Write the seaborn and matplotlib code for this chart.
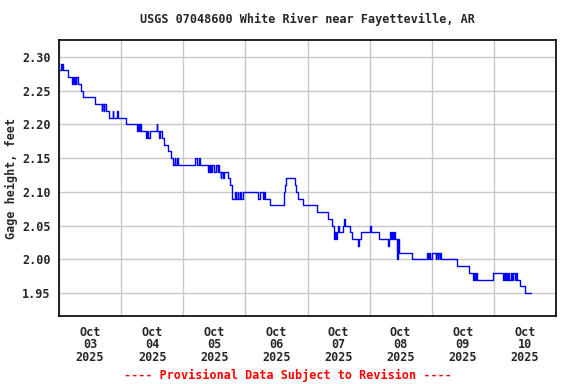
import numpy as np
import pandas as pd
import matplotlib
matplotlib.use('Agg')
import matplotlib.pyplot as plt
import matplotlib.dates as mdates
import seaborn as sns

# hours after 2025-10-03 00:00 where the gage reading changes, and the new reading (ft)
hours = [0.0, 0.75, 1.0, 1.25, 1.5, 3.5, 5.0, 5.25, 5.75, 6.0, 6.5, 6.75, 7.25, 8.5, 9.25,
         13.75, 16.5, 16.75, 17.25, 17.5, 18.0, 19.5, 20.75, 21.0, 22.5, 22.75, 26.0,
         30.25, 30.5, 31.0, 31.25, 31.75, 33.5, 34.0, 34.5, 35.0, 37.75, 38.0, 38.75, 39.0,
         39.75, 40.5, 42.0, 43.25, 44.0, 44.75, 45.0, 45.75, 46.0, 52.5, 53.25, 54.0, 54.5,
         57.75, 58.0, 58.25, 58.5, 58.75, 59.25, 60.0, 60.5, 61.25, 61.5, 62.0, 62.5, 62.75,
         63.5, 63.75, 65.25, 66.0, 66.75, 67.0, 68.0, 68.25, 69.0, 69.25, 70.0, 70.25, 71.0,
         76.75, 77.5, 78.75, 79.25, 79.75, 81.5, 87.0, 87.25, 87.75, 91.25, 91.75, 92.25,
         94.25, 99.5, 104.0, 105.5, 106.25, 106.75, 107.0, 107.5, 107.75, 108.0, 109.75,
         110.25, 110.5, 112.25, 113.25, 115.5, 115.75, 116.75, 120.25, 120.5, 123.5, 127.25,
         127.5, 128.0, 128.25, 128.75, 129.0, 129.5, 129.75, 130.5, 130.75, 131.0, 131.5,
         136.25, 142.25, 142.5, 143.0, 143.5, 144.0, 145.5, 145.75, 146.25, 146.5, 147.0,
         147.25, 147.75, 153.75, 158.25, 160.0, 160.25, 160.75, 161.0, 161.5, 167.75, 171.5,
         171.75, 172.25, 172.75, 173.0, 173.5, 174.0, 174.5, 175.0, 175.25, 176.0, 176.5,
         177.0, 178.0, 180.0, 182.5]
gage = [2.28, 2.29, 2.28, 2.29, 2.28, 2.27, 2.26, 2.27, 2.26, 2.27, 2.26, 2.27, 2.26, 2.25, 2.24,
        2.23, 2.22, 2.23, 2.22, 2.23, 2.22, 2.21, 2.22, 2.21, 2.22, 2.21, 2.20,
        2.19, 2.20, 2.19, 2.20, 2.19, 2.18, 2.19, 2.18, 2.19, 2.20, 2.19, 2.18, 2.19,
        2.18, 2.17, 2.16, 2.15, 2.14, 2.15, 2.14, 2.15, 2.14, 2.15, 2.14, 2.15, 2.14,
        2.13, 2.14, 2.13, 2.14, 2.13, 2.14, 2.13, 2.14, 2.13, 2.14, 2.13, 2.12, 2.13,
        2.12, 2.13, 2.12, 2.11, 2.10, 2.09, 2.10, 2.09, 2.10, 2.09, 2.10, 2.09, 2.10,
        2.09, 2.10, 2.09, 2.10, 2.09, 2.08, 2.10, 2.11, 2.12, 2.11, 2.10, 2.09,
        2.08, 2.07, 2.06, 2.05, 2.03, 2.04, 2.03, 2.04, 2.05, 2.04, 2.05,
        2.06, 2.05, 2.04, 2.03, 2.02, 2.03, 2.04, 2.05, 2.04, 2.03, 2.02,
        2.03, 2.04, 2.03, 2.04, 2.03, 2.04, 2.03, 2.02, 2.00, 2.03, 2.01,
        2.00, 2.01, 2.00, 2.01, 2.00, 2.01, 2.00, 2.01, 2.00, 2.01, 2.00,
        2.01, 2.00, 1.99, 1.98, 1.97, 1.98, 1.97, 1.98, 1.97, 1.98, 1.97,
        1.98, 1.97, 1.98, 1.97, 1.98, 1.97, 1.98, 1.97, 1.98, 1.97, 1.98,
        1.97, 1.96, 1.95, 1.95]
days = ['2025-10-03', '2025-10-04', '2025-10-05', '2025-10-06',
        '2025-10-07', '2025-10-08', '2025-10-09', '2025-10-10', '2025-10-11']

start = pd.Timestamp(days[0])
df = pd.DataFrame({'time': start + pd.to_timedelta(hours, unit='h'), 'gage': gage})

sns.set_style('white')
plt.rcParams['font.family'] = ['DejaVu Sans Mono']
plt.rcParams['font.weight'] = 'bold'
plt.rcParams['font.size'] = 8.5

fig = plt.figure(figsize=(5.76, 3.84), dpi=100)
ax = fig.add_axes([59/576, 1 - 316/384, 497/576, 276/384])

sns.lineplot(data=df, x='time', y='gage', ax=ax, color='#0000ff', linewidth=1,
             drawstyle='steps-post')

ax.set_xlim(pd.Timestamp(days[0]), pd.Timestamp(days[-1]))
ax.set_ylim(1.916, 2.325)
ax.set_yticks(np.arange(1.95, 2.301, 0.05))
ax.yaxis.set_major_formatter(plt.FormatStrFormatter('%.2f'))

# labels at noon, grid lines at midnight
ax.xaxis.set_major_locator(mdates.HourLocator(byhour=12))
ax.xaxis.set_major_formatter(mdates.DateFormatter('%b\n%d\n%Y'))
ax.xaxis.set_minor_locator(mdates.DayLocator())
ax.grid(True, which='minor', axis='x', color='#c8c8c8', linewidth=1)
ax.grid(True, which='major', axis='y', color='#c8c8c8', linewidth=1)
ax.grid(False, which='major', axis='x')
ax.tick_params(axis='both', which='both', length=0, labelsize=8.5)
ax.tick_params(axis='x', pad=7)
ax.tick_params(axis='y', pad=6)
for lab in ax.get_xticklabels():
    lab.set_linespacing(0.95)
for lab in ax.get_xticklabels() + ax.get_yticklabels():
    lab.set_fontweight('bold')
for s in ax.spines.values():
    s.set_color('black')
    s.set_linewidth(1.2)

ax.set_xlabel('')
ax.set_ylabel('Gage height, feet', fontsize=8.5, fontweight='bold', labelpad=3)
ax.set_title('USGS 07048600 White River near Fayetteville, AR', fontsize=8.5,
             fontweight='bold', pad=12)
fig.text(0.5, 1 - 375/384, '---- Provisional Data Subject to Revision ----',
         color='red', ha='center', va='center', fontsize=8.5, fontweight='bold')

fig.savefig('out.png', dpi=100)
